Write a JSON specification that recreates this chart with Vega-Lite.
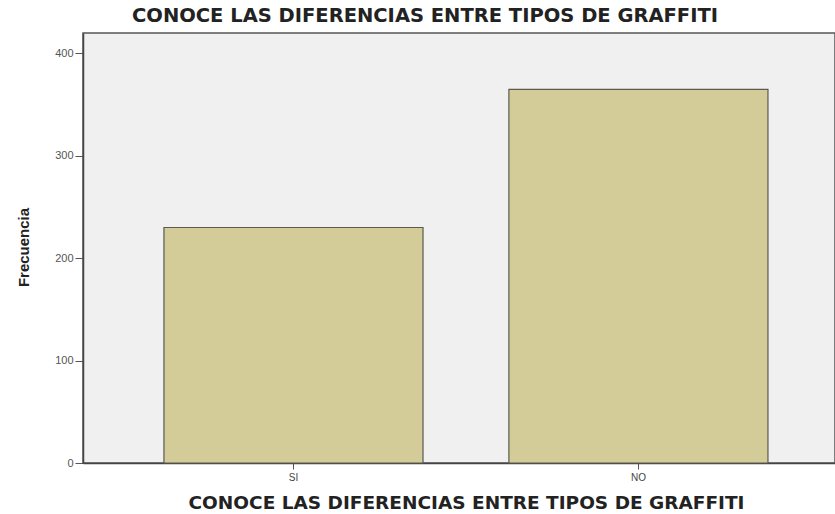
{
  "$schema": "https://vega.github.io/schema/vega-lite/v6.json",
  "autosize": {"type": "none"},
  "padding": {"left": 83, "top": 33, "right": 0, "bottom": 51},
  "width": 752,
  "height": 430,
  "background": "#ffffff",
  "config": {
    "view": {"fill": "#F0F0F0", "stroke": "#555555", "strokeWidth": 1.5},
    "font": "Liberation Sans"
  },
  "title": {
    "text": "CONOCE LAS DIFERENCIAS ENTRE TIPOS DE GRAFFITI",
    "font": "DejaVu Sans",
    "fontSize": 19.5,
    "fontWeight": "bold",
    "color": "#222222",
    "anchor": "middle",
    "dx": -34,
    "offset": 7
  },
  "data": {
    "values": [
      {"respuesta": "SI", "frecuencia": 230},
      {"respuesta": "NO", "frecuencia": 365}
    ]
  },
  "mark": {"type": "bar", "fill": "#D3CB98", "stroke": "#5a5a50", "strokeWidth": 1.2},
  "encoding": {
    "x": {
      "field": "respuesta",
      "type": "nominal",
      "sort": ["SI", "NO"],
      "scale": {"paddingInner": 0.249, "paddingOuter": 0.2145, "align": 0.547},
      "axis": {
        "title": "CONOCE LAS DIFERENCIAS ENTRE TIPOS DE GRAFFITI",
        "titleFont": "DejaVu Sans",
        "titleFontSize": 18.5,
        "titleFontWeight": "bold",
        "titleColor": "#222222",
        "titleAlign": "center",
        "titleBaseline": "alphabetic",
        "titleX": 383,
        "titleY": 45,
        "labelAngle": 0,
        "labelFontSize": 10,
        "labelColor": "#444444",
        "labelPadding": 3,
        "tickSize": 6,
        "tickColor": "#555555",
        "domainColor": "#444444",
        "domainWidth": 1.5
      }
    },
    "y": {
      "field": "frecuencia",
      "type": "quantitative",
      "scale": {"domain": [0, 420], "nice": false},
      "axis": {
        "title": "Frecuencia",
        "titleFont": "Liberation Sans",
        "titleFontSize": 15,
        "titleFontWeight": "bold",
        "titleColor": "#222222",
        "titleAngle": 270,
        "titleAlign": "center",
        "titleBaseline": "middle",
        "titleX": -60,
        "titleY": 214,
        "values": [0, 100, 200, 300, 400],
        "grid": false,
        "labelFontSize": 11,
        "labelColor": "#555555",
        "labelPadding": 2,
        "tickSize": 8,
        "tickColor": "#555555",
        "domainColor": "#444444",
        "domainWidth": 1.5
      }
    }
  }
}
